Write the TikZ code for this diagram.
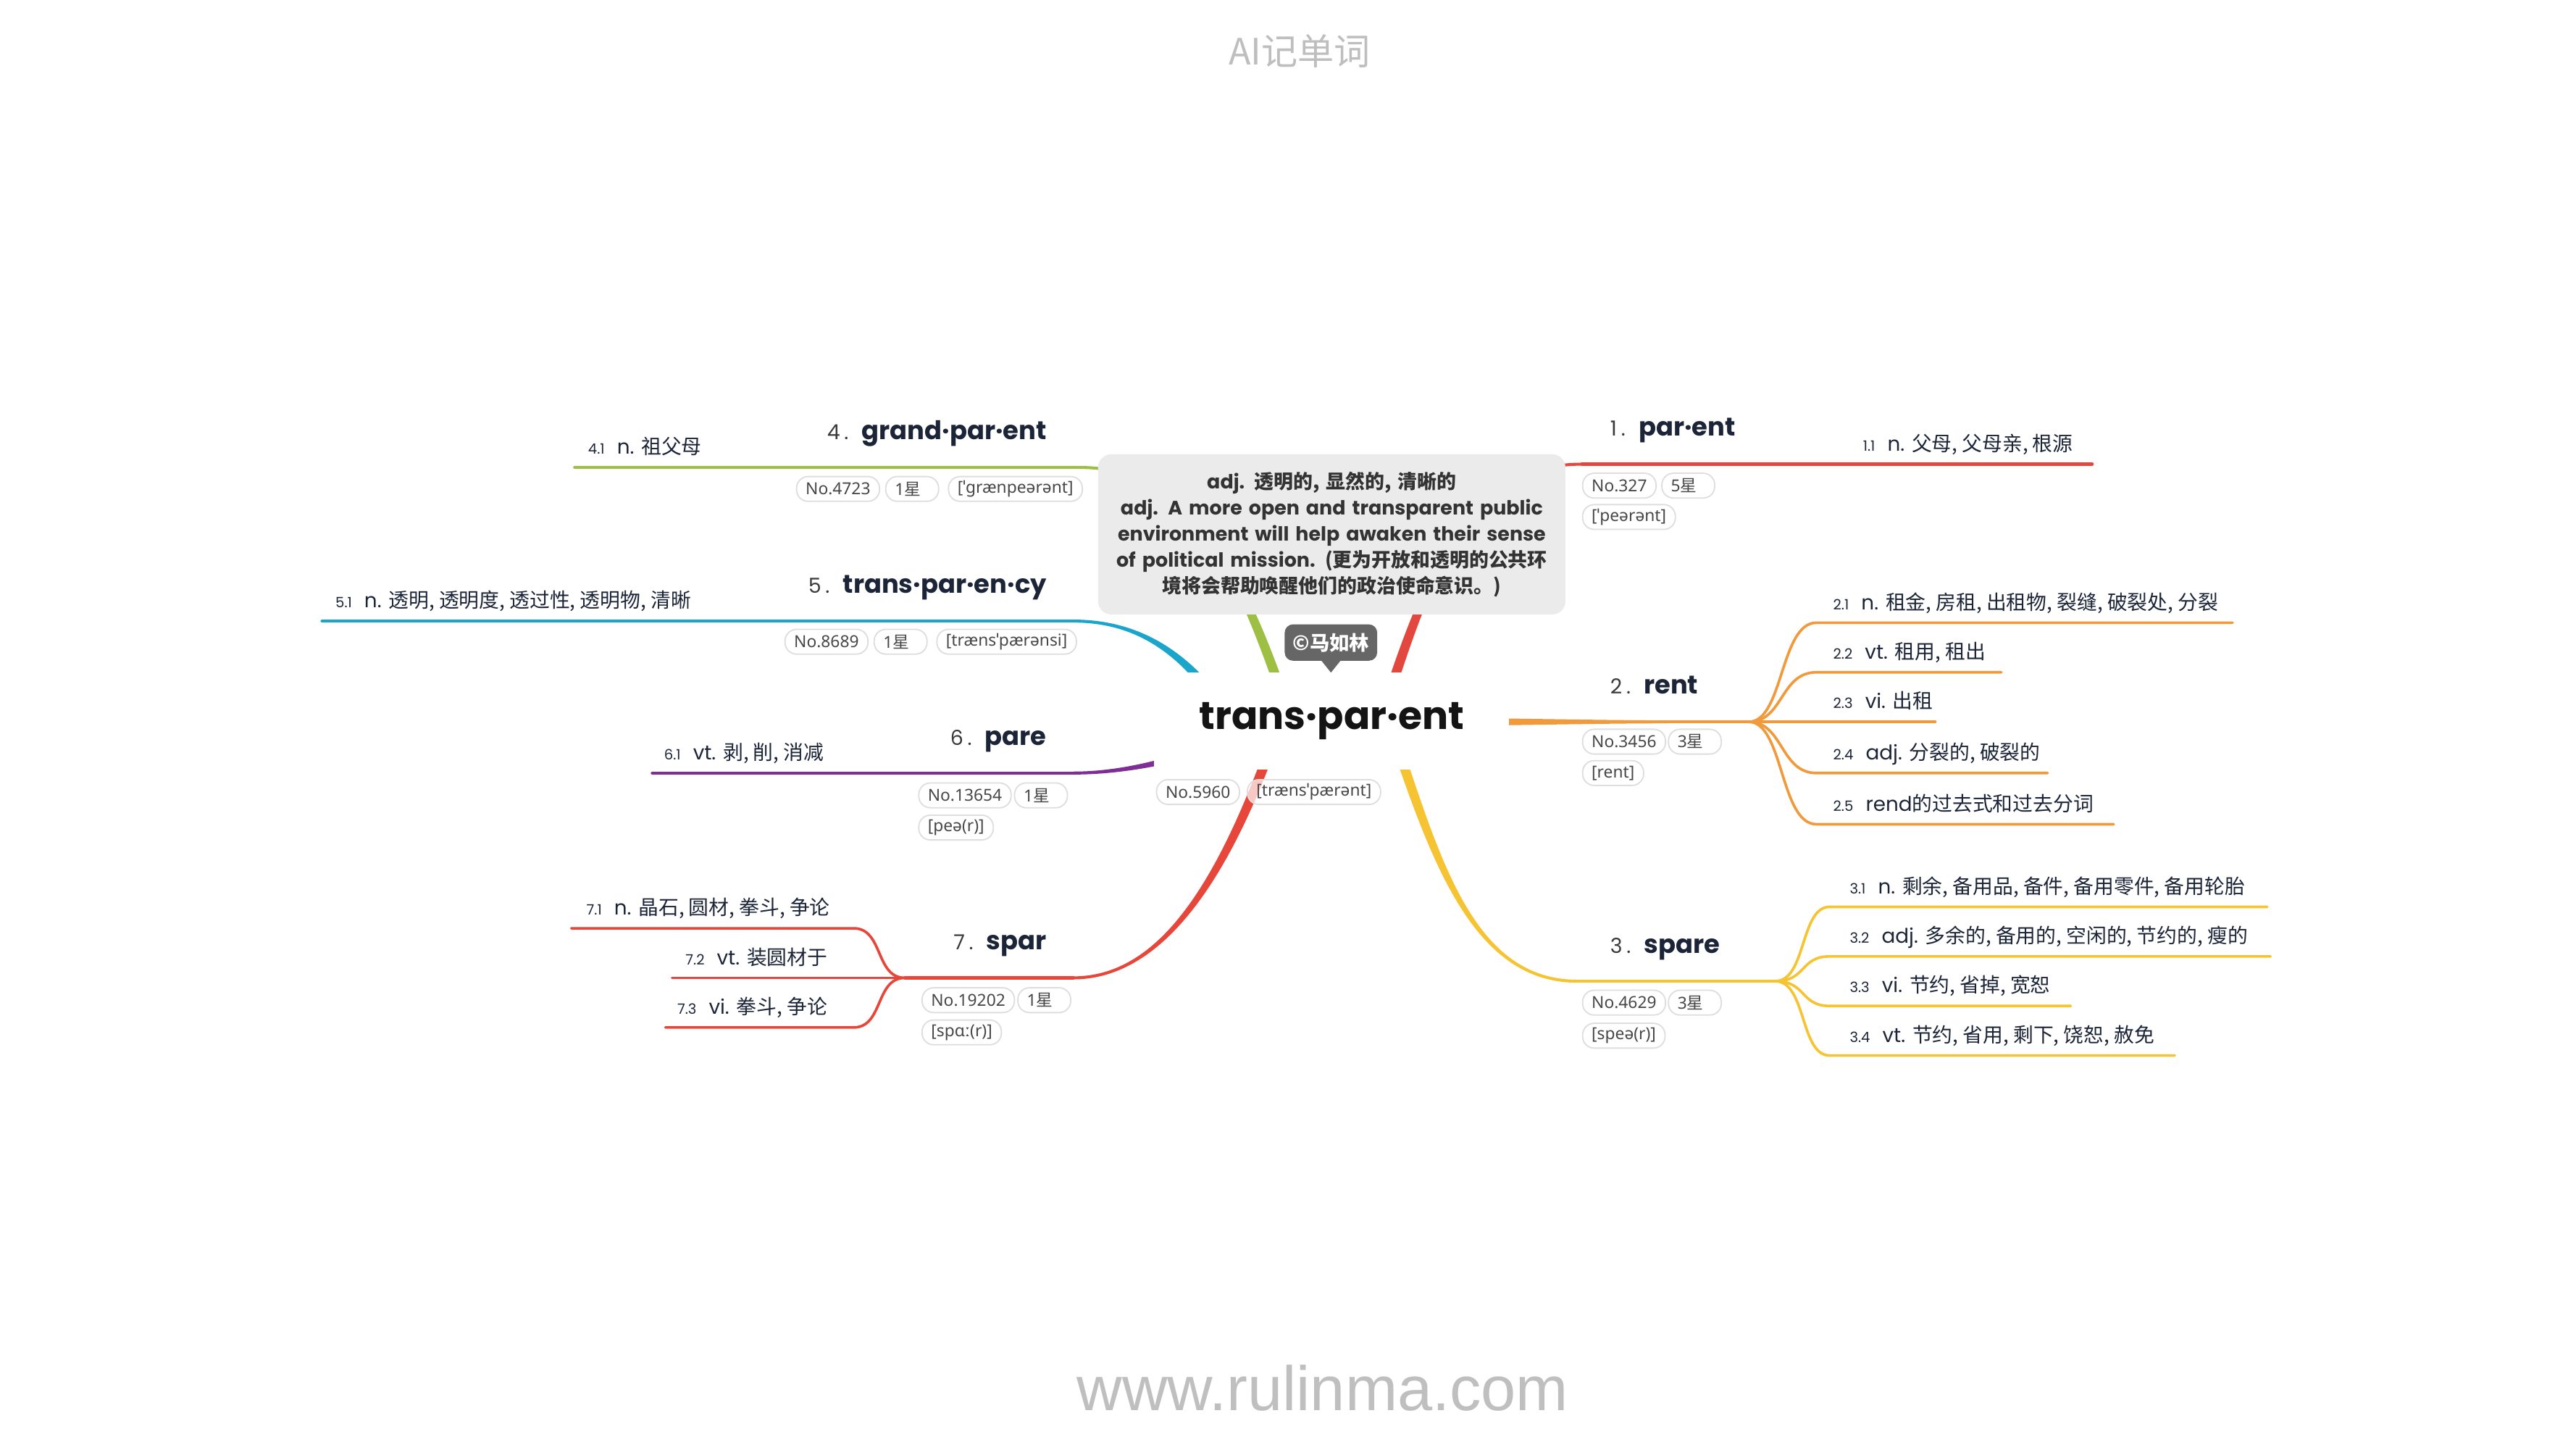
\documentclass[tikz,border=0pt]{standalone}
\usepackage{fontspec}
\setmainfont{Noto Sans}
\newfontfamily\cjk{Noto Sans CJK SC}
\newfontfamily\pop{Poppins}
\newfontfamily\lib{Liberation Sans}
\usetikzlibrary{calc}
\definecolor{cRed}{HTML}{E2483D}
\definecolor{cRedB}{HTML}{E6473A}
\definecolor{cGreen}{HTML}{9DC044}
\definecolor{cTeal}{HTML}{1BA5CB}
\definecolor{cPurple}{HTML}{7F2E96}
\definecolor{cOrange}{HTML}{F09A3C}
\definecolor{cYellow}{HTML}{F6C433}
\definecolor{cNavy}{HTML}{1C2538}
\definecolor{cNum}{HTML}{3A3A3A}
\definecolor{cBox}{HTML}{EBEBEB}
\definecolor{cBubble}{HTML}{666666}
\definecolor{cPill}{HTML}{DEDEDE}
\definecolor{cGray}{HTML}{BEBEBE}
\newcommand\C[1]{{\cjk #1}}
\newcommand\taper[7]{\fill[#1] ($(#2)!#6!90:(#3)$) .. controls ($(#3)!#6!-90:(#2)$) and ($(#4)!#7!90:(#5)$) .. ($(#5)!#7!-90:(#4)$) -- ($(#5)!#7!90:(#4)$) .. controls ($(#4)!#7!-90:(#5)$) and ($(#3)!#6!90:(#2)$) .. ($(#2)!#6!-90:(#3)$) -- cycle;}
\newcommand\mksub[2]{{\fontsize{8.6}{10}\selectfont #1}\hspace{7.5pt}#2}
\newcommand\mkhd[2]{{\fontsize{12.5}{15}\selectfont\color{cNum}#1\hspace{2.5pt}.}\hspace{8pt}{\bfseries\fontsize{15.5}{19}\selectfont\color{cNavy}#2}}
\begin{document}
\begin{tikzpicture}[x=1pt,y=-1pt,
  hdr/.style={inner sep=0pt, font=\pop},
  subt/.style={inner sep=0pt, anchor=base west, font=\pop\fontsize{12.2}{15}\selectfont, text=cNavy},
  pill/.style={draw=cPill, line width=0.8pt, fill=white, rounded corners=7pt, minimum height=15pt, inner xsep=5.5pt, inner ysep=0pt, font=\fontsize{10}{12}\selectfont, text=black!72, anchor=west},
  starpill/.style={pill, text width=21pt, align=left},
  subline/.style={line width=1.6pt, line cap=round},
  mainline/.style={line width=1.8pt, line cap=round},
  defbox/.style={fill=cBox, rounded corners=8pt, minimum width=283pt, minimum height=97pt, text width=278pt, align=center, inner sep=0pt, font=\pop\bfseries\fontsize{11.8}{15.8}\selectfont, text=black!80},
]
\useasboundingbox (0,0) rectangle (1560,877.4);
\fill[white] (0,0) rectangle (1560,877.4);

% ---------- coordinates of branches
\coordinate (b1a) at (836,437); \coordinate (b1b) at (866,340); \coordinate (b1c) at (892,281); \coordinate (b1d) at (958,281); \coordinate (b1e) at (1267,281);
\coordinate (b4a) at (782,437); \coordinate (b4b) at (750,340); \coordinate (b4c) at (720,283); \coordinate (b4d) at (654,283); \coordinate (b4e) at (348,283);
\coordinate (b5a) at (748,440); \coordinate (b5b) at (722,398); \coordinate (b5c) at (692,376); \coordinate (b5d) at (650,376); \coordinate (b5e) at (195,376);
\coordinate (b6a) at (770,440); \coordinate (b6b) at (730,455); \coordinate (b6c) at (690,468); \coordinate (b6d) at (650,468); \coordinate (b6e) at (395,468);
\coordinate (b7a) at (775,437); \coordinate (b7b) at (740,540); \coordinate (b7c) at (700,592); \coordinate (b7d) at (650,592); \coordinate (j7) at (548,592);
\coordinate (b3a) at (842,440); \coordinate (b3b) at (868,515); \coordinate (b3c) at (890,594); \coordinate (b3d) at (955,594); \coordinate (j3) at (1075,594);
\coordinate (b2a) at (820,437); \coordinate (b2b) at (880,437); \coordinate (b2c) at (960,437); \coordinate (b2d) at (1010,437); \coordinate (j2) at (1059,437);

% ---------- main branches
\taper{cRed}{b1a}{b1b}{b1c}{b1d}{3pt}{0.9pt}
\draw[mainline, cRed] (b1d) -- (b1e);
\taper{cGreen}{b4a}{b4b}{b4c}{b4d}{3pt}{0.9pt}
\draw[mainline, cGreen] (b4d) -- (b4e);
\taper{cTeal}{b5a}{b5b}{b5c}{b5d}{3pt}{0.9pt}
\draw[mainline, cTeal] (b5d) -- (b5e);
\taper{cPurple}{b6a}{b6b}{b6c}{b6d}{3pt}{0.9pt}
\draw[mainline, cPurple] (b6d) -- (b6e);
\taper{cRedB}{b7a}{b7b}{b7c}{b7d}{3pt}{0.9pt}
\draw[mainline, cRedB] (b7d) -- (j7);
\taper{cYellow}{b3a}{b3b}{b3c}{b3d}{3pt}{0.9pt}
\draw[mainline, cYellow] (b3d) -- (j3);
\taper{cOrange}{b2a}{b2b}{b2c}{b2d}{3pt}{0.9pt}
\draw[mainline, cOrange] (b2d) -- (j2);

% ---------- sub branches: spar
\coordinate (s71a) at (517,562); \coordinate (s71b) at (346,562);
\coordinate (s72b) at (407,592);
\coordinate (s73a) at (517,622); \coordinate (s73b) at (403,622);
\draw[subline, cRedB] (j7) .. controls (530,592) and (535,562) .. (s71a) -- (s71b);
\draw[subline, cRedB] (j7) -- (s72b);
\draw[subline, cRedB] (j7) .. controls (530,592) and (535,622) .. (s73a) -- (s73b);
% rent
\coordinate (s21a) at (1100,377); \coordinate (s21b) at (1352,377);
\coordinate (s22a) at (1100,407); \coordinate (s22b) at (1212,407);
\coordinate (s23b) at (1172,437);
\coordinate (s24a) at (1100,468); \coordinate (s24b) at (1240,468);
\coordinate (s25a) at (1100,499); \coordinate (s25b) at (1280,499);
\draw[subline, cOrange] (j2) .. controls (1080,437) and (1078,377) .. (s21a) -- (s21b);
\draw[subline, cOrange] (j2) .. controls (1080,437) and (1078,407) .. (s22a) -- (s22b);
\draw[subline, cOrange] (j2) -- (s23b);
\draw[subline, cOrange] (j2) .. controls (1080,437) and (1078,468) .. (s24a) -- (s24b);
\draw[subline, cOrange] (j2) .. controls (1080,437) and (1078,499) .. (s25a) -- (s25b);
% spare
\coordinate (s31a) at (1108,549); \coordinate (s31b) at (1373,549);
\coordinate (s32a) at (1108,579); \coordinate (s32b) at (1375,579);
\coordinate (s33a) at (1108,609); \coordinate (s33b) at (1254,609);
\coordinate (s34a) at (1108,639); \coordinate (s34b) at (1317,639);
\draw[subline, cYellow] (j3) .. controls (1094,594) and (1090,549) .. (s31a) -- (s31b);
\draw[subline, cYellow] (j3) .. controls (1094,594) and (1090,579) .. (s32a) -- (s32b);
\draw[subline, cYellow] (j3) .. controls (1094,594) and (1090,609) .. (s33a) -- (s33b);
\draw[subline, cYellow] (j3) .. controls (1094,594) and (1090,639) .. (s34a) -- (s34b);

% ---------- definition box
\node[defbox] (def) at (806.5,323.5) {adj. \C{透明的, 显然的, 清晰的}\\ adj. A more open and transparent public\\ environment will help awaken their sense\\ of political mission. \C{(更为开放和透明的公共环}\\ \C{境将会帮助唤醒他们的政治使命意识。)}};

% ---------- central node
\node[fill=white, minimum width=215pt, minimum height=59pt, inner sep=0pt, font=\pop\bfseries\fontsize{23.5}{28}\selectfont, text=black!92] (root) at (806.5,436.5) {trans·par·ent};
\node[fill=cBubble, rounded corners=5pt, minimum width=56pt, minimum height=22pt, inner sep=0pt, text=white, font=\cjk\bfseries\fontsize{12}{14}\selectfont] (copy) at (806,389) {©马如林};
\fill[cBubble] ($(copy.south)+(-6,-0.5)$) -- ($(copy.south)+(6,-0.5)$) -- ($(copy.south)+(0,7)$) -- cycle;
\node[pill] (c0a) at (700,479.5) {No.5960};
\node[pill, fill opacity=0.7, text opacity=1] (c0b) at (755,479.5) {[trænsˈpærənt]};

% ---------- headers
\node[hdr, anchor=base west] (h1) at (975,264) {\mkhd{1}{par·ent}};
\node[hdr, anchor=base west] (h2) at (975,420) {\mkhd{2}{rent}};
\node[hdr, anchor=base west] (h3) at (975,577) {\mkhd{3}{spare}};
\node[hdr, anchor=base east] (h4) at (634,266) {\mkhd{4}{grand·par·ent}};
\node[hdr, anchor=base east] (h5) at (634,359) {\mkhd{5}{trans·par·en·cy}};
\node[hdr, anchor=base east] (h6) at (634,451) {\mkhd{6}{pare}};
\node[hdr, anchor=base east] (h7) at (634,575) {\mkhd{7}{spar}};

% ---------- pills
\node[pill] (p1a) at (958,294) {No.327};
\node[starpill] (p1b) at (1006,294) {5\C{星}};
\node[pill] (p1c) at (958,313) {[ˈpeərənt]};
\node[pill] (p2a) at (958,449) {No.3456};
\node[starpill] (p2b) at (1010,449) {3\C{星}};
\node[pill] (p2c) at (958,468) {[rent]};
\node[pill] (p3a) at (958,607) {No.4629};
\node[starpill] (p3b) at (1010,607) {3\C{星}};
\node[pill] (p3c) at (958,627) {[speə(r)]};
\node[pill] (p4a) at (482,296) {No.4723};
\node[starpill] (p4b) at (536,296) {1\C{星}};
\node[pill] (p4c) at (574,296) {[ˈgrænpeərənt]};
\node[pill] (p5a) at (475,388.5) {No.8689};
\node[starpill] (p5b) at (529,388.5) {1\C{星}};
\node[pill] (p5c) at (567,388.5) {[trænsˈpærənsi]};
\node[pill] (p6a) at (556,481.5) {No.13654};
\node[starpill] (p6b) at (614,481.5) {1\C{星}};
\node[pill] (p6c) at (556,501) {[peə(r)]};
\node[pill] (p7a) at (558,605.5) {No.19202};
\node[starpill] (p7b) at (616,605.5) {1\C{星}};
\node[pill] (p7c) at (558,625) {[spɑː(r)]};

% ---------- sub labels
\node[subt] (t11) at (1128,273) {\mksub{1.1}{n. \C{父母, 父母亲, 根源}}};
\node[subt] (t21) at (1110,369) {\mksub{2.1}{n. \C{租金, 房租, 出租物, 裂缝, 破裂处, 分裂}}};
\node[subt] (t22) at (1110,399) {\mksub{2.2}{vt. \C{租用, 租出}}};
\node[subt] (t23) at (1110,429) {\mksub{2.3}{vi. \C{出租}}};
\node[subt] (t24) at (1110,460) {\mksub{2.4}{adj. \C{分裂的, 破裂的}}};
\node[subt] (t25) at (1110,491) {\mksub{2.5}{rend\C{的过去式和过去分词}}};
\node[subt] (t31) at (1120,541) {\mksub{3.1}{n. \C{剩余, 备用品, 备件, 备用零件, 备用轮胎}}};
\node[subt] (t32) at (1120,571) {\mksub{3.2}{adj. \C{多余的, 备用的, 空闲的, 节约的, 瘦的}}};
\node[subt] (t33) at (1120,601) {\mksub{3.3}{vi. \C{节约, 省掉, 宽恕}}};
\node[subt] (t34) at (1120,631) {\mksub{3.4}{vt. \C{节约, 省用, 剩下, 饶恕, 赦免}}};
\node[subt] (t41) at (356,275) {\mksub{4.1}{n. \C{祖父母}}};
\node[subt] (t51) at (203,368) {\mksub{5.1}{n. \C{透明, 透明度, 透过性, 透明物, 清晰}}};
\node[subt] (t61) at (402,460) {\mksub{6.1}{vt. \C{剥, 削, 消减}}};
\node[subt] (t71) at (355,554) {\mksub{7.1}{n. \C{晶石, 圆材, 拳斗, 争论}}};
\node[subt] (t72) at (415,584) {\mksub{7.2}{vt. \C{装圆材于}}};
\node[subt] (t73) at (410,614) {\mksub{7.3}{vi. \C{拳斗, 争论}}};

% ---------- title and url
\node[inner sep=0pt, text=cGray, font=\cjk\fontsize{22}{26}\selectfont] (title) at (787,31) {AI记单词};
\node[inner sep=0pt, anchor=base, text=black!25, font=\lib\fontsize{38}{44}\selectfont] (url) at (801,854) {www.rulinma.com};
\end{tikzpicture}
\end{document}
